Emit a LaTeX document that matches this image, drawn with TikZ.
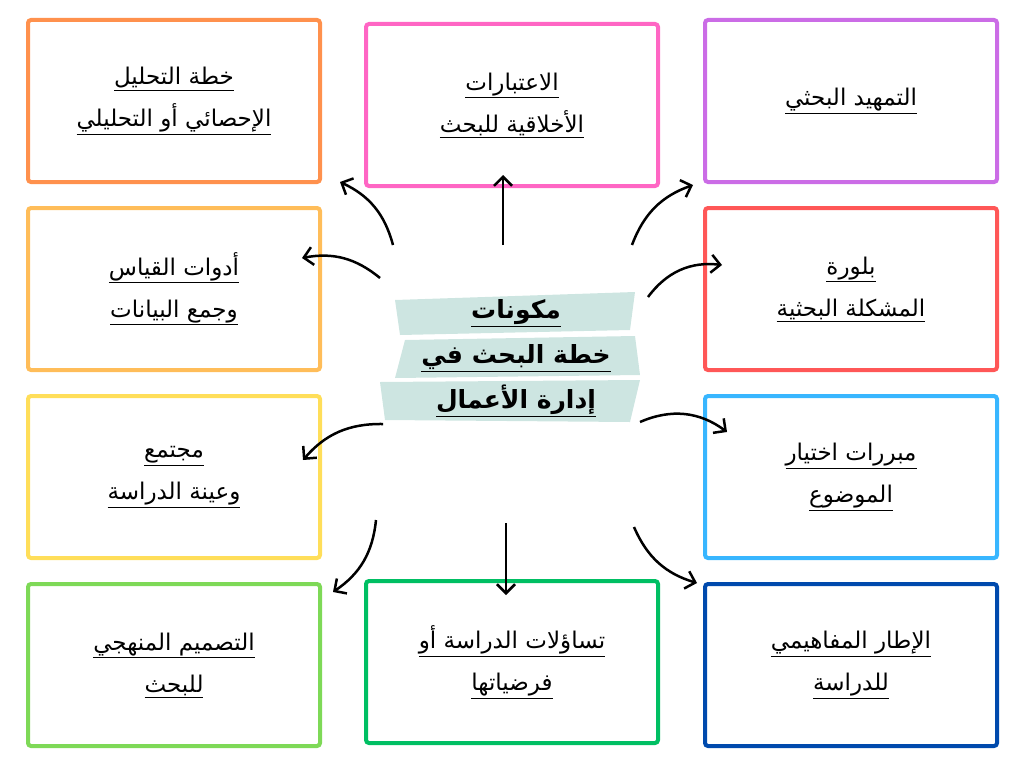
\documentclass[tikz,border=0pt]{standalone}
\usepackage{fontspec}
\newfontfamily\arabicfont[Script=Arabic]{DejaVu Sans}
\usetikzlibrary{arrows.meta}
\TeXXeTstate=1
\newcommand{\ar}[1]{\underline{\beginR #1\endR}}
\definecolor{cOr}{HTML}{FF914D}\definecolor{cPk}{HTML}{FF66C4}\definecolor{cPu}{HTML}{CB6CE6}
\definecolor{cLo}{HTML}{FFBD59}\definecolor{cRd}{HTML}{FF5757}\definecolor{cYe}{HTML}{FFDE59}
\definecolor{cBl}{HTML}{38B6FF}\definecolor{cGr}{HTML}{7ED957}\definecolor{cG2}{HTML}{00BF63}
\definecolor{cNv}{HTML}{004AAD}\definecolor{teal}{HTML}{CDE5E1}
\begin{document}
\begin{tikzpicture}[x=1pt,y=-1pt,
 box/.style={draw=#1,line width=4pt,rounded corners=3pt,minimum width=292pt,minimum height=162pt,align=center,font=\arabicfont\fontsize{23}{42}\selectfont},
 arr/.style={line width=2.5pt,-{Straight Barb[length=9pt,width=18pt]}}]
\useasboundingbox (0,0) rectangle (1024,768);
\node[box=cOr] (b1) at (174,101) {\ar{خطة التحليل}\\\ar{الإحصائي أو التحليلي}};
\node[box=cPk] (b2) at (512,105) {\ar{الاعتبارات}\\\ar{الأخلاقية للبحث}};
\node[box=cPu] (b3) at (851,101) {\ar{التمهيد البحثي}};
\node[box=cLo] (b4) at (174,289) {\ar{أدوات القياس}\\\ar{وجمع البيانات}};
\node[box=cRd] (b5) at (851,289) {\ar{بلورة}\\\ar{المشكلة البحثية}};
\node[box=cYe] (b6) at (174,477) {\ar{مجتمع}\\\ar{وعينة الدراسة}};
\node[box=cBl] (b7) at (851,477) {\ar{مبررات اختيار}\\\ar{الموضوع}};
\node[box=cGr] (b8) at (174,665) {\ar{التصميم المنهجي}\\\ar{للبحث}};
\node[box=cG2] (b9) at (512,662) {\ar{تساؤلات الدراسة أو}\\\ar{فرضياتها}};
\node[box=cNv] (b10) at (851,665) {\ar{الإطار المفاهيمي}\\\ar{للدراسة}};
\fill[teal] (395,300) -- (635,292) -- (630,330) -- (400,335) -- cycle;
\fill[teal] (405,340) -- (635,336) -- (640,375) -- (395,378) -- cycle;
\fill[teal] (380,382) -- (640,380) -- (630,422) -- (385,420) -- cycle;
\node[align=center,font=\arabicfont\bfseries\fontsize{25}{45}\selectfont] (c) at (516,358) {\ar{مكونات}\\\ar{خطة البحث في}\\\ar{إدارة الأعمال}};
\coordinate (s1) at (393,245); \coordinate (e1) at (340,182);
\coordinate (s2) at (503,245); \coordinate (e2) at (503,175);
\coordinate (s3) at (632,245); \coordinate (e3) at (693,185);
\coordinate (s4) at (380,278); \coordinate (e4) at (302,258);
\coordinate (s5) at (648,297); \coordinate (e5) at (722,265);
\coordinate (s6) at (383,424); \coordinate (e6) at (303,460);
\coordinate (s7) at (640,422); \coordinate (e7) at (727,432);
\coordinate (s8) at (376,520); \coordinate (e8) at (333,592);
\coordinate (s9) at (506,523); \coordinate (e9) at (506,595);
\coordinate (s10) at (634,527); \coordinate (e10) at (697,583);
\draw[arr] (s1) to[bend right=25] (e1);
\draw[arr] (s2) -- (e2);
\draw[arr] (s3) to[bend left=25] (e3);
\draw[arr] (s4) to[bend right=25] (e4);
\draw[arr] (s5) to[bend left=30] (e5);
\draw[arr] (s6) to[bend right=25] (e6);
\draw[arr] (s7) to[bend left=30] (e7);
\draw[arr] (s8) to[bend left=25] (e8);
\draw[arr] (s9) -- (e9);
\draw[arr] (s10) to[bend right=25] (e10);
\end{tikzpicture}
\end{document}
